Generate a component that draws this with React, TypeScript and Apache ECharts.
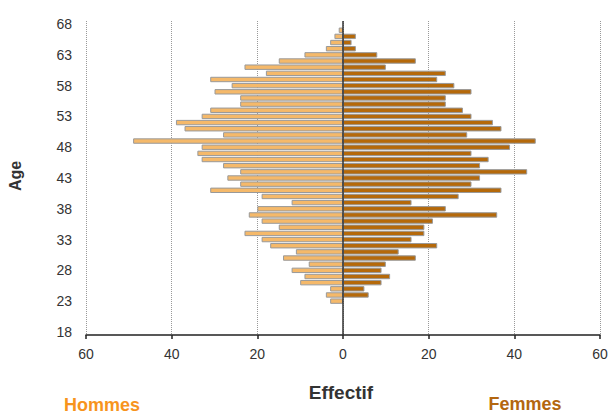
import React, { useEffect, useRef } from "react";
import * as echarts from "echarts";

const axisAges: string[] = [];
for (let a = 18; a <= 68; a++) axisAges.push(String(a));

const ages = [23, 24, 25, 26, 27, 28, 29, 30, 31, 32, 33, 34, 35, 36, 37, 38, 39, 40, 41, 42, 43, 44, 45, 46, 47, 48, 49, 50, 51, 52, 53, 54, 55, 56, 57, 58, 59, 60, 61, 62, 63, 64, 65, 66, 67];
const hommes = [3, 4, 3, 10, 9, 12, 8, 14, 11, 17, 19, 23, 15, 19, 22, 20, 12, 19, 31, 24, 27, 24, 28, 33, 34, 33, 49, 28, 37, 39, 33, 31, 24, 24, 30, 26, 31, 18, 23, 15, 9, 4, 3, 2, 1];
const femmes = [0, 6, 5, 9, 11, 9, 10, 17, 13, 22, 16, 19, 19, 21, 36, 24, 16, 27, 37, 30, 32, 43, 32, 34, 30, 39, 45, 29, 37, 35, 30, 28, 24, 24, 30, 26, 22, 24, 10, 17, 8, 3, 2, 3, 0];
const xTicks = { min: -60, max: 60, interval: 20 };

const FONT = "'Liberation Sans', Arial, sans-serif";

export default function App() {
  const ref = useRef<HTMLDivElement>(null);
  useEffect(() => {
    if (!ref.current) return;
    const chart = echarts.init(ref.current, null, { renderer: "svg" });
    const maleData = axisAges.map((a) => {
      const i = ages.indexOf(Number(a));
      return i >= 0 && hommes[i] ? -hommes[i] : null;
    });
    const femaleData = axisAges.map((a) => {
      const i = ages.indexOf(Number(a));
      return i >= 0 && femmes[i] ? femmes[i] : null;
    });
    chart.setOption({
      animation: false,
      grid: { left: 86, right: 11, top: 21, bottom: 79, containLabel: false },
      xAxis: {
        type: "value",
        min: xTicks.min,
        max: xTicks.max,
        interval: xTicks.interval,
        axisLine: { show: true, onZero: false, lineStyle: { color: "#222", width: 1.5 } },
        axisTick: { show: true, length: 4, lineStyle: { color: "#222", width: 1.5 } },
        axisLabel: {
          color: "#333",
          fontSize: 14,
          fontFamily: FONT,
          margin: 12,
          formatter: (v: number) => String(Math.abs(v)),
        },
        splitLine: { show: true, lineStyle: { color: "#999", type: "dotted", width: 1 } },
      },
      yAxis: {
        type: "category",
        data: axisAges,
        boundaryGap: true,
        axisLine: { show: false },
        axisTick: { show: false },
        axisLabel: { interval: 4, color: "#333", fontSize: 14, fontFamily: FONT, margin: 14 },
        splitLine: { show: false },
      },
      graphic: [
        { type: "text", x: 341, y: 392, style: { text: "Effectif", fill: "#333", font: `bold 19px ${FONT}`, textAlign: "center", textVerticalAlign: "middle" } },
        { type: "text", x: 102, y: 405, style: { text: "Hommes", fill: "#F7941D", font: `bold 18px ${FONT}`, textAlign: "center", textVerticalAlign: "middle" } },
        { type: "text", x: 525, y: 404, style: { text: "Femmes", fill: "#B3660F", font: `bold 18px ${FONT}`, textAlign: "center", textVerticalAlign: "middle" } },
        { type: "text", x: 15, y: 176, rotation: Math.PI / 2, style: { text: "Age", fill: "#333", font: `bold 16px ${FONT}`, textAlign: "center", textVerticalAlign: "middle" } },
      ],
      series: [
        {
          name: "Hommes",
          type: "bar",
          data: maleData,
          barWidth: 5.4,
          barGap: "-100%",
          itemStyle: { color: "#F5B96A", borderColor: "#999", borderWidth: 1 },
        },
        {
          name: "Femmes",
          type: "bar",
          data: femaleData,
          barWidth: 5.4,
          barGap: "-100%",
          itemStyle: { color: "#B5690A", borderColor: "#999", borderWidth: 1 },
          markLine: {
            silent: true,
            symbol: "none",
            label: { show: false },
            lineStyle: { color: "#333", width: 1.5, type: "solid" },
            data: [{ xAxis: 0 }],
          },
        },
      ],
    });
    return () => chart.dispose();
  }, []);
  return <div ref={ref} style={{ position: "absolute", left: 0, top: 0, width: 611, height: 414 }} />;
}
